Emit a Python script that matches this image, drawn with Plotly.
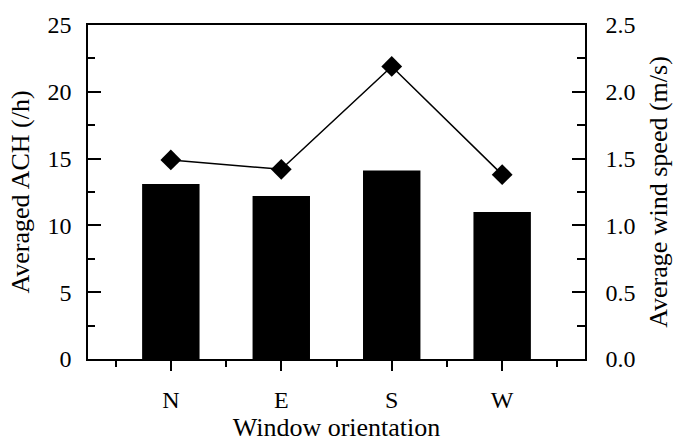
import plotly.graph_objects as go

categories = ["N", "E", "S", "W"]
ach = [13.1, 12.2, 14.1, 11.0]
wind = [1.49, 1.42, 2.19, 1.38]

FONT = "Liberation Serif, Times New Roman, serif"
F = dict(family=FONT, size=24, color="black")
FT = dict(family=FONT, size=26, color="black")
fig = go.Figure()
fig.add_trace(go.Bar(x=list(range(len(categories))), y=ach, width=0.52,
                     marker=dict(color="black", line=dict(width=0)), yaxis="y"))
fig.add_trace(go.Scatter(x=list(range(len(categories))), y=wind, yaxis="y2",
                         mode="lines+markers",
                         line=dict(color="black", width=1.5),
                         marker=dict(symbol="diamond", size=16, color="black")))

fig.update_layout(
    width=681, height=447,
    margin=dict(l=88, r=96, t=20, b=84),
    plot_bgcolor="white", paper_bgcolor="white",
    showlegend=False,
    font=F,
    xaxis=dict(range=[-0.75, 3.75], tickmode="array",
               tickvals=list(range(len(categories))), ticktext=categories,
               tickfont=F,
               ticks="outside", ticklen=10, tickwidth=1.5, tickcolor="black",
               minor=dict(tickmode="array", tickvals=[-0.5, 0.5, 1.5, 2.5, 3.5],
                          ticks="outside", ticklen=6, tickwidth=1.5, tickcolor="black"),
               showline=True, linecolor="black", linewidth=1.5, mirror=True,
               showgrid=False, zeroline=False,
               title=dict(text="Window orientation", standoff=4, font=FT),
               ticklabelstandoff=8),
    yaxis=dict(range=[0, 25], dtick=5, ticks="inside", ticklen=13, tickwidth=1.5,
               tickcolor="black", tickfont=F,
               minor=dict(dtick=2.5, ticks="inside", ticklen=7, tickwidth=1.5, tickcolor="black"),
               showline=True, linecolor="black", linewidth=1.5,
               showgrid=False, zeroline=False,
               title=dict(text="Averaged ACH (/h)", standoff=10, font=FT),
               ticklabelstandoff=10),
    yaxis2=dict(range=[0, 2.5], dtick=0.5, tickformat=".1f", overlaying="y", side="right",
                ticks="inside", ticklen=13, tickwidth=1.5, tickcolor="black", tickfont=F,
                minor=dict(dtick=0.25, ticks="inside", ticklen=8, tickwidth=1.5, tickcolor="black"),
                showline=True, linecolor="black", linewidth=1.5,
                showgrid=False, zeroline=False,
                title=dict(text="Average wind speed (m/s)", standoff=14, font=FT),
                ticklabelstandoff=14),
)

fig.write_html("out.html")
